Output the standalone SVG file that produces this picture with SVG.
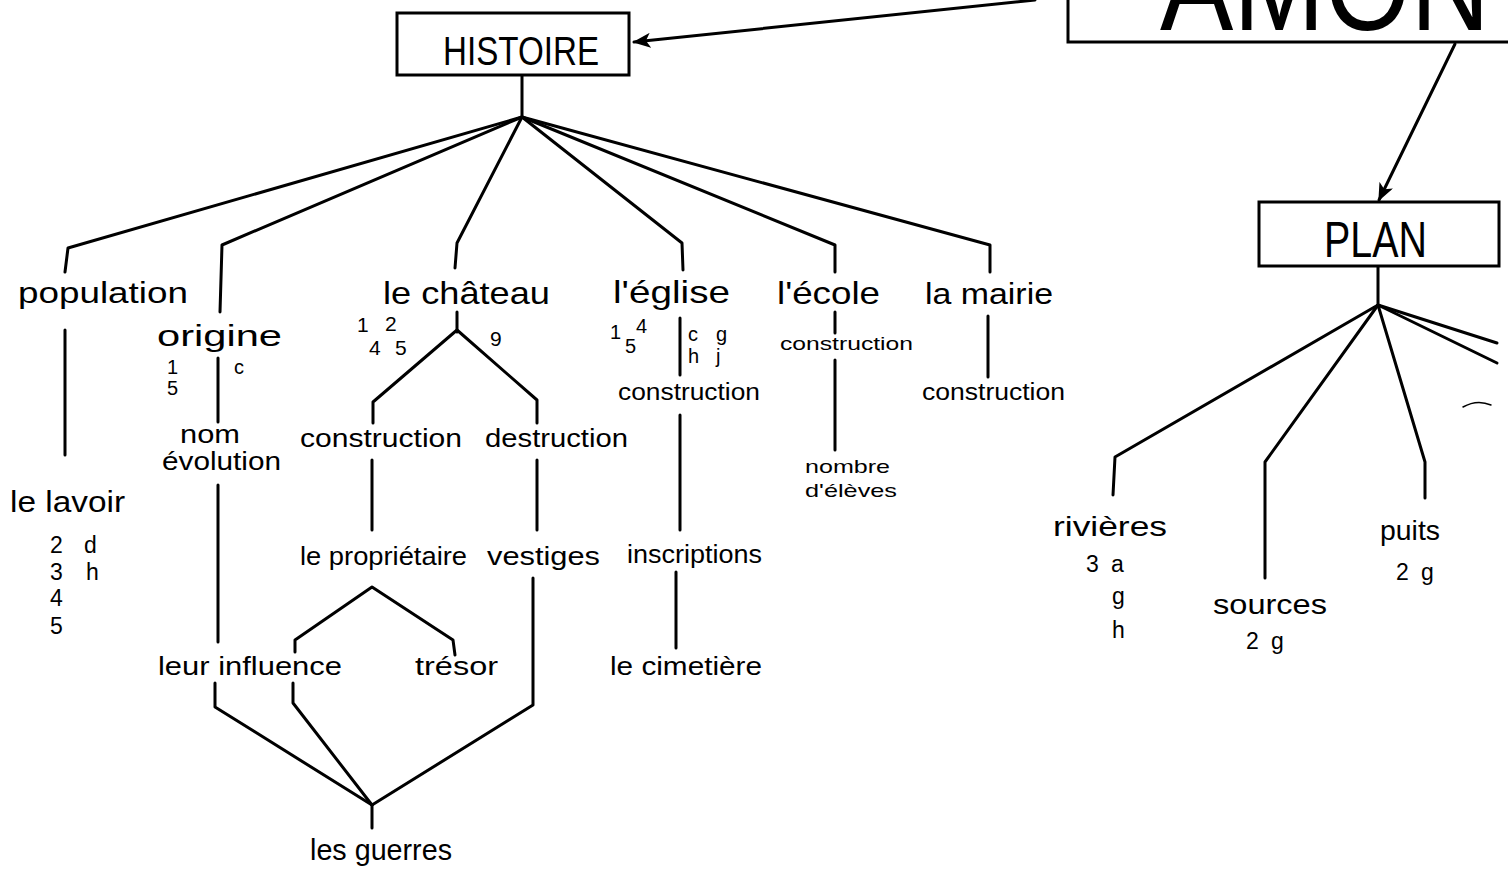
<svg xmlns="http://www.w3.org/2000/svg" width="1508" height="873" viewBox="0 0 1508 873">
<style>
.ln{fill:none;stroke:#000;stroke-width:3;stroke-linecap:round;stroke-linejoin:round}
.bx{fill:#fff;stroke:#000;stroke-width:3}
text{font-family:"Liberation Sans","DejaVu Sans",sans-serif;fill:#000}
.t{font-size:30px}
.m{font-size:25px}
.s{font-size:23px}
.xs{font-size:20px}
.n{font-size:21px}
</style>
<defs>
<marker id="ah" viewBox="0 0 12 10" refX="11" refY="5" markerWidth="6" markerHeight="5" orient="auto" markerUnits="strokeWidth">
<path d="M0,0 L12,5 L0,10 L3,5 z" fill="#000"/>
</marker>
</defs>
<rect width="1508" height="873" fill="#fff"/>

<g id="connectors" class="ln">
<path d="M1035,0 L634,42" marker-end="url(#ah)"/>
<path d="M1455,44 L1379,200" marker-end="url(#ah)"/>
<path d="M522,75 L522,117"/>
<path d="M522,117 L68,248 L65,272"/>
<path d="M522,117 L222,245 L220,312"/>
<path d="M522,117 L457,243 L455,268"/>
<path d="M522,117 L682,243 L683,270"/>
<path d="M522,117 L835,245 L835,272"/>
<path d="M522,117 L990,245 L990,272"/>
<path d="M65,330 L65,455"/>
<path d="M218,358 L218,422"/>
<path d="M218,485 L218,642"/>
<path d="M457,312 L457,332"/>
<path d="M373,423 L373,402 L457,330 L537,400 L537,423"/>
<path d="M372,460 L372,530"/>
<path d="M537,460 L537,530"/>
<path d="M295,652 L295,640 L372,587 L453,640 L455,655"/>
<path d="M533,578 L533,705 L372,805"/>
<path d="M215,683 L215,707 L372,805"/>
<path d="M293,683 L293,703 L372,805"/>
<path d="M372,805 L372,828"/>
<path d="M680,318 L680,375"/>
<path d="M680,415 L680,530"/>
<path d="M676,572 L676,648"/>
<path d="M835,312 L835,333"/>
<path d="M835,360 L835,450"/>
<path d="M988,316 L988,377"/>
<path d="M1378,267 L1378,305"/>
<path d="M1378,305 L1115,457 L1113,495"/>
<path d="M1378,305 L1265,462 L1265,578"/>
<path d="M1378,305 L1425,462 L1425,498"/>
<path d="M1378,305 L1497,343"/>
<path d="M1378,305 L1497,363"/>
<path d="M1463,407 Q1477,399 1491,405" style="stroke-width:1.5"/>
</g>

<g id="amon">
<rect class="bx" x="1068" y="-20" width="460" height="62"/>
<text x="1160" y="30" style="font-size:130px;font-weight:200" textLength="330" lengthAdjust="spacingAndGlyphs">AMON</text>
</g>
<g id="histoire">
<rect class="bx" x="397" y="13" width="232" height="62"/>
<text x="443" y="65" style="font-size:41px" textLength="156" lengthAdjust="spacingAndGlyphs">HISTOIRE</text>
</g>
<g id="plan">
<rect class="bx" x="1259" y="202" width="240" height="64"/>
<text x="1324" y="257" style="font-size:50px" textLength="103" lengthAdjust="spacingAndGlyphs">PLAN</text>
</g>

<g id="population">
<text class="t" x="18" y="303" textLength="170" lengthAdjust="spacingAndGlyphs">population</text>
</g>
<g id="lavoir">
<text class="t" x="10" y="512" textLength="115" lengthAdjust="spacingAndGlyphs">le lavoir</text>
<text class="s" x="50" y="553">2</text><text class="s" x="84" y="553">d</text>
<text class="s" x="50" y="580">3</text><text class="s" x="86" y="580">h</text>
<text class="s" x="50" y="606">4</text>
<text class="s" x="50" y="634">5</text>
</g>
<g id="origine">
<text class="t" x="157" y="346" textLength="125" lengthAdjust="spacingAndGlyphs">origine</text>
<text class="xs" x="167" y="374">1</text>
<text class="xs" x="167" y="395">5</text>
<text class="xs" x="234" y="374">c</text>
</g>
<g id="nom">
<text class="m" x="180" y="443" textLength="60" lengthAdjust="spacingAndGlyphs">nom</text>
<text class="m" x="162" y="470" textLength="119" lengthAdjust="spacingAndGlyphs">évolution</text>
</g>
<g id="influence">
<text class="m" x="158" y="675" textLength="184" lengthAdjust="spacingAndGlyphs">leur influence</text>
</g>
<g id="guerres">
<text class="t" x="310" y="860" textLength="142" lengthAdjust="spacingAndGlyphs">les guerres</text>
</g>
<g id="chateau">
<text class="t" x="383" y="304" style="font-size:32px" textLength="167" lengthAdjust="spacingAndGlyphs">le château</text>
<text class="n" x="357" y="332">1</text>
<text class="n" x="385" y="331">2</text>
<text class="n" x="369" y="355">4</text>
<text class="n" x="395" y="355">5</text>
<text class="n" x="490" y="346">9</text>
</g>
<g id="construction-chateau">
<text class="m" x="300" y="447" textLength="162" lengthAdjust="spacingAndGlyphs">construction</text>
</g>
<g id="destruction">
<text class="m" x="485" y="447" textLength="143" lengthAdjust="spacingAndGlyphs">destruction</text>
</g>
<g id="proprietaire">
<text class="m" x="300" y="565" textLength="167" lengthAdjust="spacingAndGlyphs">le propriétaire</text>
</g>
<g id="vestiges">
<text class="m" x="487" y="565" textLength="113" lengthAdjust="spacingAndGlyphs">vestiges</text>
</g>
<g id="tresor">
<text class="m" x="415" y="675" textLength="83" lengthAdjust="spacingAndGlyphs">trésor</text>
</g>
<g id="eglise">
<text class="t" x="613" y="303" style="font-size:32px" textLength="117" lengthAdjust="spacingAndGlyphs">l'église</text>
<text class="xs" x="610" y="339">1</text>
<text class="xs" x="636" y="333">4</text>
<text class="xs" x="625" y="353">5</text>
<text class="xs" x="688" y="341">c</text>
<text class="xs" x="716" y="341">g</text>
<text class="xs" x="688" y="363">h</text>
<text class="xs" x="716" y="363">j</text>
</g>
<g id="construction-eglise">
<text class="s" x="618" y="400" textLength="142" lengthAdjust="spacingAndGlyphs">construction</text>
</g>
<g id="inscriptions">
<text class="m" x="627" y="563" textLength="135" lengthAdjust="spacingAndGlyphs">inscriptions</text>
</g>
<g id="cimetiere">
<text class="m" x="610" y="675" textLength="152" lengthAdjust="spacingAndGlyphs">le cimetière</text>
</g>
<g id="ecole">
<text class="t" x="777" y="304" style="font-size:32px" textLength="103" lengthAdjust="spacingAndGlyphs">l'école</text>
<text x="780" y="350" style="font-size:19px" textLength="133" lengthAdjust="spacingAndGlyphs">construction</text>
</g>
<g id="nombre">
<text x="805" y="473" style="font-size:19px" textLength="85" lengthAdjust="spacingAndGlyphs">nombre</text>
<text x="805" y="497" style="font-size:19px" textLength="92" lengthAdjust="spacingAndGlyphs">d'élèves</text>
</g>
<g id="mairie">
<text class="t" x="925" y="304" textLength="128" lengthAdjust="spacingAndGlyphs">la mairie</text>
<text class="s" x="922" y="400" textLength="143" lengthAdjust="spacingAndGlyphs">construction</text>
</g>
<g id="rivieres">
<text class="t" x="1053" y="536" style="font-size:28px" textLength="114" lengthAdjust="spacingAndGlyphs">rivières</text>
<text class="s" x="1086" y="572">3</text><text class="s" x="1111" y="572">a</text>
<text class="s" x="1112" y="604">g</text>
<text class="s" x="1112" y="638">h</text>
</g>
<g id="sources">
<text class="t" x="1213" y="614" style="font-size:28px" textLength="114" lengthAdjust="spacingAndGlyphs">sources</text>
<text class="s" x="1246" y="649">2</text><text class="s" x="1271" y="649">g</text>
</g>
<g id="puits">
<text class="t" x="1380" y="540" style="font-size:28px" textLength="60" lengthAdjust="spacingAndGlyphs">puits</text>
<text class="s" x="1396" y="580">2</text><text class="s" x="1421" y="580">g</text>
</g>
</svg>
